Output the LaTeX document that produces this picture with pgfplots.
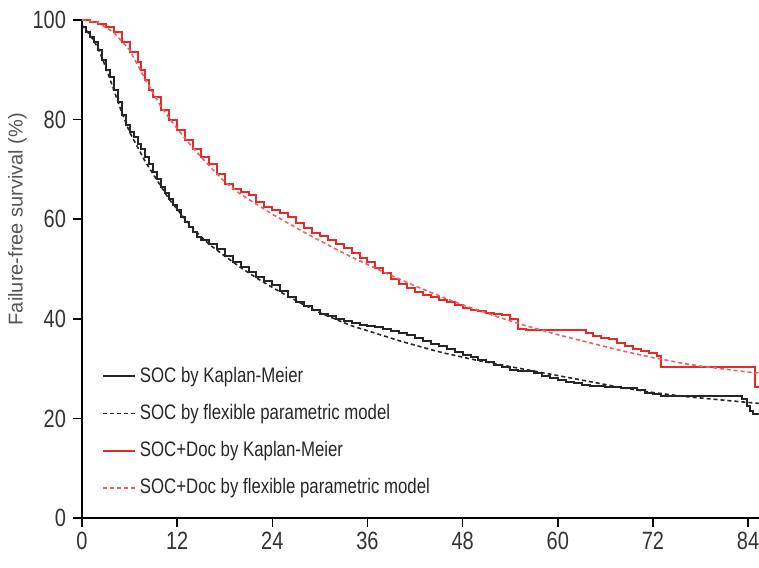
\documentclass[border=0pt]{standalone}
\usepackage{fontspec}
\setmainfont{Liberation Sans}[FakeStretch=0.8]
\newfontfamily\labelfont{Liberation Sans}
\usepackage{pgfplots}
\pgfplotsset{compat=1.18}
\definecolor{kmred}{HTML}{E52A2A}
\definecolor{fpred}{HTML}{F06060}
\definecolor{labgray}{HTML}{555555}

\begin{document}
\begin{tikzpicture}
\useasboundingbox (-41pt,-24.5pt) rectangle (338.5pt,259pt);
\begin{axis}[
    scale only axis,
    width=339pt, height=249pt,
    xmin=0, xmax=85.5,
    ymin=0, ymax=100,
    axis lines=left,
    axis line style={-, line width=0.8pt},
    xtick={0,12,...,84},
    ytick={0,20,...,100},
    tick align=outside,
    major tick length=4.5pt,
    tick style={line width=0.8pt, black},
    tick label style={font=\fontsize{12.5}{14}\selectfont, text=black!80},
    /pgf/number format/assume math mode=true,
    xticklabel style={yshift=1pt},
    ylabel={Failure-free survival (\%)},
    ylabel style={font=\labelfont\fontsize{10}{12}\selectfont, text=labgray,
        at={(ticklabel cs:0.6)}, yshift=-4pt},
    legend style={
        at={(0.02,0.32)}, anchor=north west,
        draw=none, fill=none,
        font=\fontsize{10.5}{12}\selectfont,
        row sep=5.5pt,
        cells={anchor=west, text=black!85},
    },
    legend image code/.code={\draw[#1] (0pt,0pt) -- (16pt,0pt);},
]

% SOC, Kaplan-Meier
\addplot[const plot, black!85, line width=1pt] coordinates {
(0,98.5) (0.5,97.5) (1,96.5) (1.5,95.5) (2,94) (2.5,92) (3,90) (3.5,88.5)
(4,86) (4.5,83.5) (5,81) (5.5,79) (6,77.5) (6.5,76.5) (7,75) (7.5,74)
(8,72.5) (8.5,71) (9,69.5) (9.5,68) (10,66.5) (10.5,65.2) (11,64) (11.5,62.8)
(12,61.8) (12.5,60.5) (13,59.5) (13.5,58.5) (14,57.5) (14.5,56.5) (15,55.8)
(16,55) (17,54) (18,52.6) (19,51.5) (20,50.5) (21,49.3) (22,48.3) (23,47.5)
(24,46.7) (25,45.5) (26,44.3) (27,43.3) (28,42.5) (29,41.7) (30,41) (31,40.5)
(32,40) (33,39.6) (34,39.2) (35,38.8) (36,38.5) (37,38.3) (38,38) (39,37.6)
(40,37.2) (41,36.7) (42,36.2) (43,35.6) (44,35) (45,34.5) (46,34) (47,33.3)
(48,32.8) (49,32.3) (50,31.8) (51,31.3) (52,30.7) (53,30.3) (54,29.8) (55,29.6)
(56,29.5) (57,29.1) (58,28.6) (59,28.2) (60,27.8) (61,27.4) (62,27.1) (63,26.8)
(64,26.6) (65,26.5) (66,26.4) (67,26.3) (68,26.2) (69,26.2) (70,25.8) (71,25.2)
(72,24.9) (73,24.5) (82.6,24.5) (83.2,23.8) (83.8,22.5) (84.2,21.5) (84.6,20.8) (85.5,20.8)
};
\addlegendentry{SOC by Kaplan-Meier}

% SOC, flexible parametric model
\addplot[black!85, line width=0.8pt, dash pattern=on 2pt off 1.5pt] coordinates {
(0,99) (1,97) (2,94.5) (3,90.5) (4,86) (5,81.5) (6,77.5) (7,74.5) (8,71.5)
(9,69) (10,66.5) (11,64) (12,62) (13,60) (14,58.2) (15,56.5) (16,55)
(18,52.6) (20,50.3) (22,48.2) (24,46.3) (26,44.5) (28,42.8) (30,41.2)
(32,39.9) (34,38.6) (36,37.6) (38,36.6) (40,35.6) (42,34.7) (44,33.8)
(46,33) (48,32.3) (50,31.6) (52,31) (54,30.4) (56,29.8) (58,29.2) (60,28.6)
(62,28) (64,27.4) (66,26.8) (68,26.2) (70,25.7) (72,25.2) (74,24.8) (76,24.4)
(78,24.1) (80,23.8) (82,23.5) (84,23.2) (85.5,23)
};
\addlegendentry{SOC by flexible parametric model}

% SOC+Doc, Kaplan-Meier
\addplot[const plot, kmred, line width=1pt] coordinates {
(0,100) (1,99.6) (2,99.2) (3,98.6) (4,97.5) (5,95.5) (6,93.5) (7,91.5)
(7.5,90) (8,88) (8.5,86) (9,84.5) (10,82) (11,80) (12,78) (13,76) (14,74)
(15,72.5) (16,71) (17,69) (18,67) (19,66) (20,65.5) (21,64.8) (22,63.5)
(23,62.5) (24,61.8) (25,61.2) (26,60.5) (27,59.3) (28,58.2) (29,57.3)
(30,56.6) (31,55.8) (32,55) (33,54.2) (34,53.2) (35,52.3) (36,51.5)
(37,50.3) (38,49.2) (39,48) (40,47) (41,46.2) (42,45.3) (43,44.8) (44,44.3)
(45,43.8) (46,43.4) (47,42.8) (48,42.2) (49,41.8) (50,41.5) (51,41.2)
(52,40.9) (53,40.8) (54,40) (55,38) (56,37.8) (62.5,37.8) (63.5,37.2) (64.5,36.5)
(65.5,36.2) (66.5,36) (67.5,35.2) (68.5,34.6) (69.5,34) (70.5,33.5) (71.5,33.2) (72.5,32.5)
(73,30.3) (84.9,26.3) (85.5,26.3)
};
\addlegendentry{SOC+Doc by Kaplan-Meier}

% SOC+Doc, flexible parametric model
\addplot[fpred, line width=0.8pt, dash pattern=on 2pt off 1.5pt] coordinates {
(0,100) (2,99.5) (4,97.5) (6,94) (8,88) (10,82.5) (12,78.2) (14,74.3)
(16,70.8) (18,67.5) (20,65) (22,63) (24,61) (26,59.2) (28,57.4) (30,55.7)
(32,54) (34,52.4) (36,50.9) (38,49.4) (40,48) (42,46.6) (44,45.3) (46,44)
(48,42.8) (50,41.7) (52,40.6) (54,39.6) (56,38.6) (58,37.7) (60,36.8)
(62,36) (64,35.2) (66,34.4) (68,33.6) (70,32.9) (72,32.2) (74,31.6)
(76,31) (78,30.5) (80,30.1) (82,29.7) (84,29.3) (85.5,29.1)
};
\addlegendentry{SOC+Doc by flexible parametric model}

\end{axis}
\end{tikzpicture}
\end{document}
